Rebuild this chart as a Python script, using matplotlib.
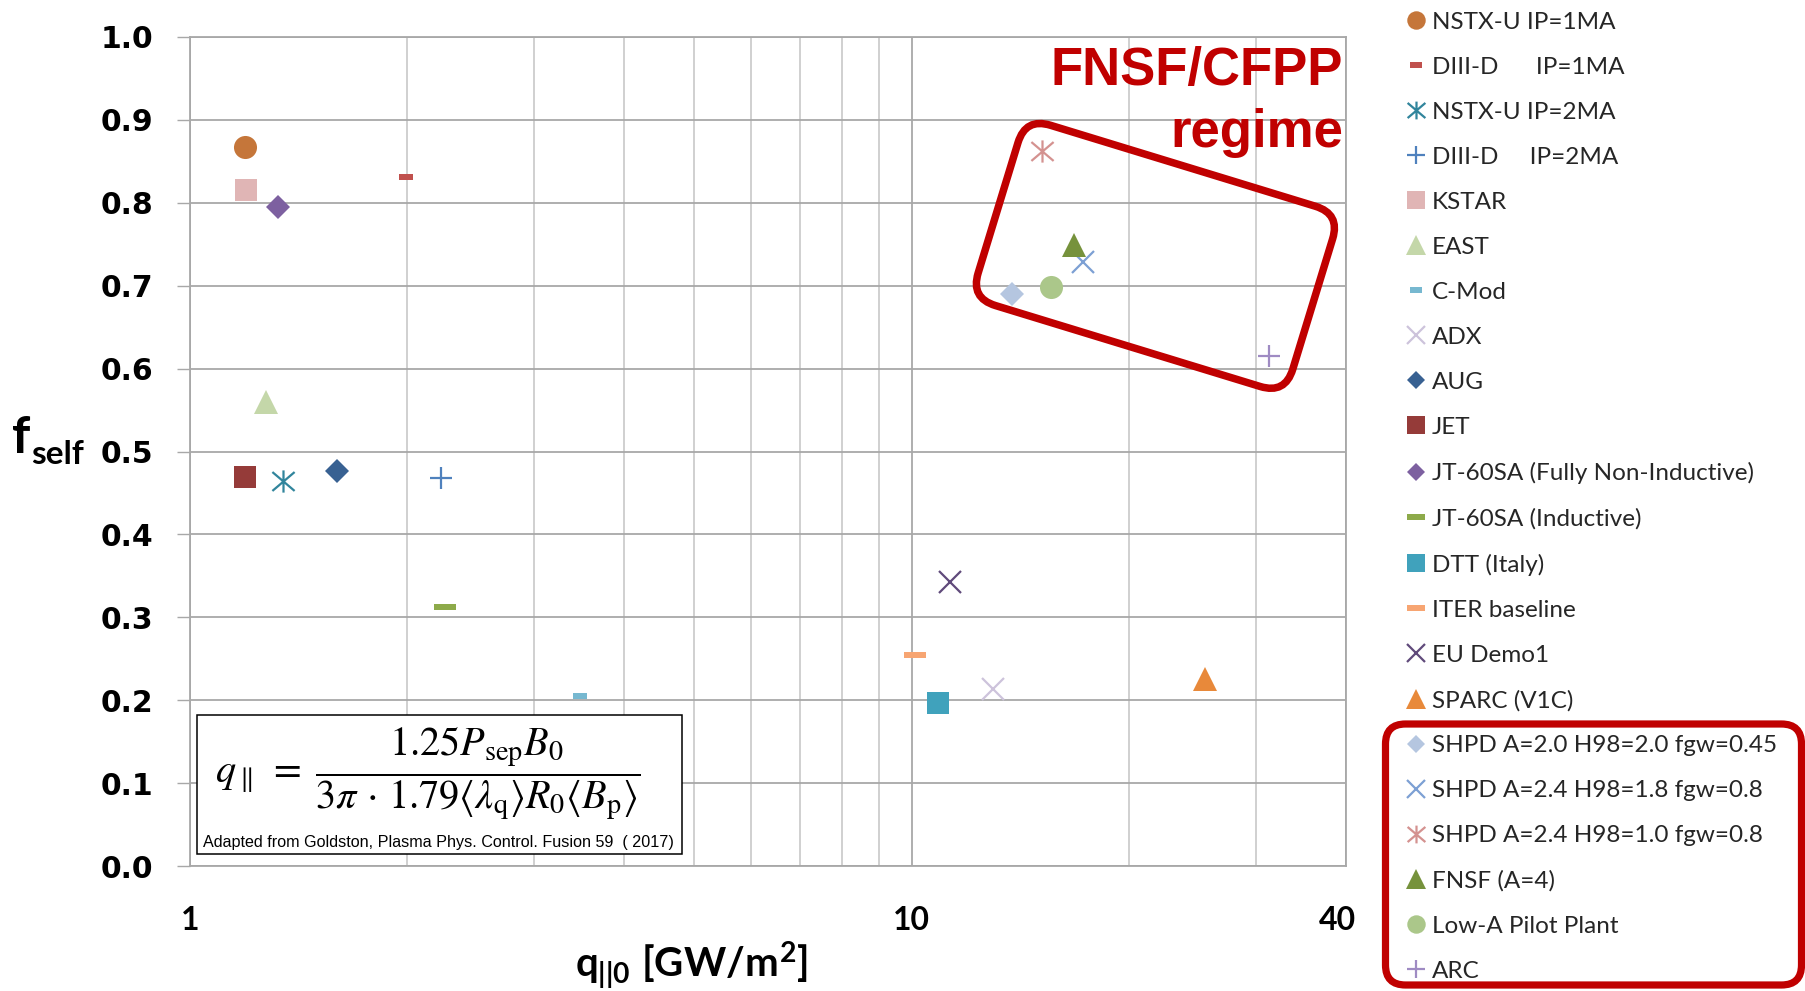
import matplotlib
matplotlib.use('Agg')
import matplotlib.pyplot as plt
from matplotlib.path import Path
from matplotlib.patches import FancyBboxPatch, Rectangle
from matplotlib.transforms import Affine2D, ScaledTranslation
from matplotlib.ticker import FixedLocator, NullFormatter

# ---------------- data ----------------
names = ["NSTX-U IP=1MA", "DIII-D      IP=1MA", "NSTX-U IP=2MA", "DIII-D     IP=2MA",
         "KSTAR", "EAST", "C-Mod", "ADX", "AUG", "JET",
         "JT-60SA (Fully Non-Inductive)", "JT-60SA (Inductive)", "DTT (Italy)",
         "ITER baseline", "EU Demo1", "SPARC (V1C)",
         "SHPD A=2.0 H98=2.0 fgw=0.45", "SHPD A=2.4 H98=1.8 fgw=0.8",
         "SHPD A=2.4 H98=1.0 fgw=0.8", "FNSF (A=4)", "Low-A Pilot Plant", "ARC"]
q_par = [1.19, 1.99, 1.347, 2.23, 1.196, 1.273, 3.475, 12.98, 1.598, 1.192,
         1.323, 2.259, 10.87, 10.10, 11.31, 25.5,
         13.79, 17.30, 15.15, 16.81, 15.59, 31.28]
f_self = [0.867, 0.831, 0.464, 0.468, 0.816, 0.560, 0.205, 0.214, 0.477, 0.469,
          0.795, 0.312, 0.197, 0.255, 0.342, 0.226,
          0.690, 0.728, 0.863, 0.749, 0.698, 0.615]
kinds = ["circle", "dash_s", "aster", "plus", "square", "tri", "dash_s", "x", "diamond", "square",
         "diamond", "dash_l", "square", "dash_l", "x", "tri",
         "diamond", "x", "aster", "tri", "circle", "plus"]
colors = ["#C5763A", "#C0504D", "#31859C", "#4F81BD", "#E0B5B5", "#C4D7A9", "#77B8D0",
          "#CDC3DB", "#386192", "#953B39", "#7D60A0", "#8DAA4A", "#40A2BC", "#F7A572",
          "#604A7B", "#E8893A", "#B5C6E0", "#7DA0D4", "#D49290", "#76923C", "#ABC78A",
          "#9F8BC3"]
ytick_vals = [0.0, 0.1, 0.2, 0.3, 0.4, 0.5, 0.6, 0.7, 0.8, 0.9, 1.0]
xtick_vals = [1, 10, 40]
xtick_labels = ["1", "10", "40"]
xminor_vals = [2, 3, 4, 5, 6, 7, 8, 9, 20, 30]

# ---------------- marker styles ----------------
aster_path = Path([(0, -1), (0, 1), (-1, -0.85), (1, 0.85), (-1, 0.85), (1, -0.85)],
                  [Path.MOVETO, Path.LINETO] * 3)


def dash_path(r):
    return Path([(-1, -r), (1, -r), (1, r), (-1, r), (-1, -r)],
                [Path.MOVETO, Path.LINETO, Path.LINETO, Path.LINETO, Path.CLOSEPOLY])


styles = {
    "circle": dict(marker="o", ms=16.6, mew=0),
    "square": dict(marker="s", ms=16.4, mew=0),
    "diamond": dict(marker="D", ms=11.8, mew=0),
    "tri": dict(marker="^", ms=17.3, mew=0),
    "x": dict(marker="x", ms=15.5, mew=1.6),
    "plus": dict(marker="+", ms=15.8, mew=1.6),
    "aster": dict(marker=aster_path, ms=16.0, mew=1.6, mfc="none"),
    "dash_s": dict(marker=dash_path(0.47), ms=10.0, mew=0),
    "dash_l": dict(marker=dash_path(0.31), ms=16.2, mew=0),
}

RED = "#C00000"

fig = plt.figure(figsize=(18.06, 9.91), dpi=100)
fig.patch.set_facecolor("white")
ax = fig.add_axes([190 / 1806, 125 / 991, (1346 - 190) / 1806, (866 - 37) / 991])

handles = []
for n, x, y, k, c in zip(names, q_par, f_self, kinds, colors):
    st = dict(styles[k])
    line, = ax.plot([x], [y], linestyle="none", color=c, mec=c,
                    mfc=st.pop("mfc", c), label=n, zorder=3, **st)
    handles.append(line)

ax.set_xscale("log")
ax.set_xlim(1, 40)
ax.set_ylim(0, 1.0)
ax.xaxis.set_major_locator(FixedLocator(xtick_vals))
ax.set_xticklabels(xtick_labels)
ax.xaxis.set_minor_locator(FixedLocator(xminor_vals))
ax.xaxis.set_minor_formatter(NullFormatter())
ax.set_yticks(ytick_vals)
ax.set_yticklabels([f"{v:.1f}" for v in ytick_vals])

ax.grid(True, which="major", axis="both", color="#A8A8A8", lw=1.3)
ax.grid(True, which="minor", axis="x", color="#C8C8C8", lw=1.2)
ax.set_axisbelow(True)
for s in ax.spines.values():
    s.set_color("#A8A8A8")
    s.set_linewidth(1.3)

ax.tick_params(axis="x", which="both", length=0, pad=29)
ax.tick_params(axis="y", which="major", length=9.4, width=1.0, color="#A8A8A8", pad=17)
for lab in ax.get_yticklabels():
    lab.set_fontfamily("DejaVu Sans")
    lab.set_fontweight("bold")
    lab.set_fontsize(21.5)
for lab in ax.get_xticklabels():
    lab.set_fontfamily("Lato")
    lab.set_fontweight("bold")
    lab.set_fontsize(23)
# nudge the "40" label slightly left as in the original
xl = ax.get_xticklabels()[2]
xl.set_transform(xl.get_transform() + ScaledTranslation(-9 / 100, 0, fig.dpi_scale_trans))

plt.rcParams["mathtext.fontset"] = "custom"
plt.rcParams["mathtext.rm"] = "Lato:bold"
plt.rcParams["mathtext.it"] = "Lato:bold"
plt.rcParams["mathtext.bf"] = "Lato:bold"
plt.rcParams["mathtext.sf"] = "Lato:bold"

# axis labels
fig.text(692 / 1806, 14 / 991, r"$q_{||0}\ [GW/m^{2}]$", ha="center", va="baseline",
         fontsize=29)
fig.text(12, 991 - 452.7, "f", transform=Affine2D(), ha="left", va="baseline",
         fontsize=37, fontweight="bold", family="Lato")
fig.text(31, 991 - 464, "self", transform=Affine2D(), ha="left", va="baseline",
         fontsize=24, fontweight="bold", family="Lato")

# legend
leg = ax.legend(handles=handles, loc="upper left", bbox_to_anchor=(1406 / 1806, 0.988),
                bbox_transform=fig.transFigure, frameon=False, borderaxespad=0,
                borderpad=0, handlelength=0.8, handletextpad=0.25, labelspacing=0.987,
                markerscale=0.8, numpoints=1,
                prop=dict(family="Lato", size=17.5))
for t in leg.get_texts():
    t.set_color("#262626")

# FNSF/CFPP regime annotation
fig.text(1343 / 1806, (991 - 85) / 991, "FNSF/CFPP", ha="right", va="baseline",
         color=RED, fontsize=38, fontweight="bold", family="Liberation Sans")
fig.text(1343 / 1806, (991 - 147) / 991, "regime", ha="right", va="baseline",
         color=RED, fontsize=38, fontweight="bold", family="Liberation Sans")

cx, cy = 1155.4, 991 - 255.9
bw, bh = 329, 188.5
rbox = FancyBboxPatch((cx - bw / 2, cy - bh / 2), bw, bh,
                      boxstyle="round,pad=0,rounding_size=26",
                      transform=Affine2D().rotate_deg_around(cx, cy, -17),
                      fill=False, ec=RED, lw=5.4, zorder=5)
fig.add_artist(rbox)

lbox = FancyBboxPatch((1385.5, 991 - 985), 1801.5 - 1385.5, 985 - 724,
                      boxstyle="round,pad=0,rounding_size=20",
                      transform=Affine2D(), fill=False, ec=RED, lw=5.2, zorder=5)
fig.add_artist(lbox)

# formula box
frect = Rectangle((197, 991 - 854), 485, 139, transform=Affine2D(), fc="white",
                  ec="black", lw=1.1, zorder=4)
fig.add_artist(frect)
fig.text(215, 991 - 773,
         r"$q_{\parallel}\;=\;\dfrac{1.25P_{\mathrm{sep}}B_0}{3\pi\,\cdot\,1.79\langle\lambda_{\mathrm{q}}\rangle R_0\langle B_{\mathrm{p}}\rangle}$",
         transform=Affine2D(), ha="left", va="center", fontsize=29,
         math_fontfamily="stix", zorder=6)
fig.text(203, 991 - 842, "Adapted from Goldston, Plasma Phys. Control. Fusion 59  ( 2017)",
         transform=Affine2D(), ha="left", va="center", fontsize=11.6,
         family="Liberation Sans", zorder=6)

fig.savefig("out.png", dpi=100, facecolor="white")
